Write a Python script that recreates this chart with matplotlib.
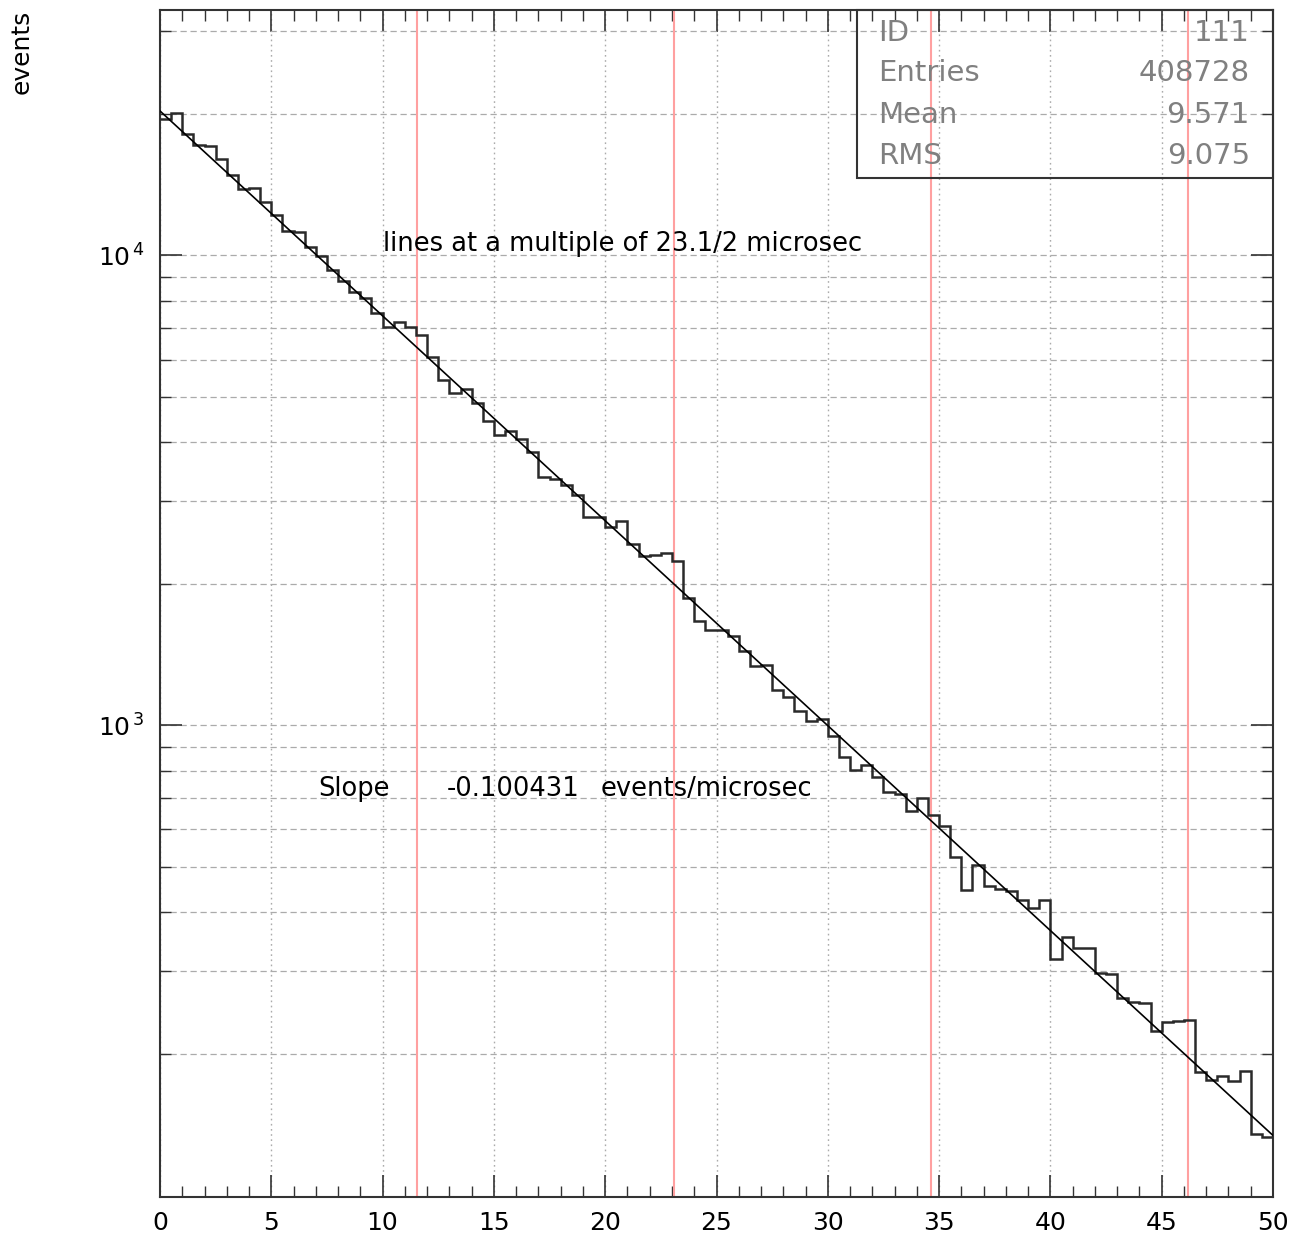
import matplotlib
matplotlib.use('Agg')
import matplotlib.pyplot as plt
from matplotlib.patches import Rectangle
from matplotlib.ticker import FixedLocator, MultipleLocator
import numpy as np

# histogram 111: decay times, 100 bins of 0.5 microsec
bin_edges = np.linspace(0, 50, 101)
counts = [19517, 20070, 18138, 17143, 17084, 16060, 14836, 13853, 13887, 12969,
          12196, 11275, 11220, 10441, 9976, 9292, 8826, 8363, 8121, 7535,
          7036, 7232, 7057, 6776, 6067, 5434, 5091, 5199, 4856, 4445,
          4151, 4233, 4070, 3824, 3383, 3345, 3248, 3093, 2781, 2779,
          2648, 2714, 2433, 2287, 2298, 2325, 2231, 1865, 1663, 1593,
          1597, 1545, 1436, 1334, 1341, 1190, 1150, 1070, 1019, 1030,
          947, 855, 804, 824, 774, 720, 714, 656, 699, 645,
          610, 523, 445, 503, 454, 447, 443, 425, 408, 424,
          318, 354, 336, 335, 297, 295, 263, 258, 256, 223,
          233, 235, 236, 183, 176, 179, 175, 184, 135, 133]

# exponential fit
fit_norm = 20300
fit_slope = -0.100431

# lines at multiples of 23.1/2 microsec
red_lines = [11.55, 23.1, 34.65, 46.2]

stat_names = ['ID', 'Entries', 'Mean', 'RMS']
stat_values = ['111', '408728', '9.571', '9.075']

y_major = [1e3, 1e4]
y_major_labels = [r'$10^{\,3}$', r'$10^{\,4}$']
y_minor = [m * 10 ** e for e in (2, 3, 4) for m in range(2, 10)]

W, H = 1298, 1241
fig = plt.figure(figsize=(W / 100, H / 100), dpi=100)
ax = fig.add_axes([160 / W, 44 / H, 1113 / W, 1187 / H])

ax.set_yscale('log')
ax.set_xlim(0, 50)
ax.set_ylim(99, 33300)

ax.xaxis.set_major_locator(MultipleLocator(5))
ax.xaxis.set_minor_locator(MultipleLocator(1))
ax.yaxis.set_major_locator(FixedLocator(y_major))
ax.yaxis.set_minor_locator(FixedLocator(y_minor))
ax.set_yticklabels(y_major_labels)
ax.yaxis.set_minor_formatter(plt.NullFormatter())

ax.grid(which='both', axis='y', color='#ababab', linestyle=(0, (5, 3)), linewidth=0.9)
ax.grid(which='major', axis='x', color='#ababab', linestyle=(0, (1.2, 2.5)), linewidth=1.0)
ax.set_axisbelow(True)

ax.tick_params(which='both', direction='in', top=True, right=True, color='#333333')
ax.tick_params(which='major', length=16, width=1.2)
ax.tick_params(which='minor', length=8, width=1.0)
ax.tick_params(axis='x', pad=10, labelsize=18)
ax.tick_params(axis='y', pad=11, labelsize=18)
for s in ax.spines.values():
    s.set_linewidth(1.5)
    s.set_color('#333333')

for xv in red_lines:
    ax.axvline(xv, color='#ffa0a0', lw=1.5, zorder=1.5)

ax.stairs(counts, bin_edges, baseline=None, color='#2a2a2a', lw=1.8, zorder=3)

xf = np.linspace(0, 50, 200)
ax.plot(xf, fit_norm * np.exp(fit_slope * xf), color='k', lw=1.2, zorder=4)

ax.text(10.0, 10580, 'lines at a multiple of 23.1/2 microsec', fontsize=18.5,
        ha='left', va='center')
ax.text(7.1, 732, 'Slope', fontsize=18.5, ha='left', va='center')
ax.text(12.9, 732, f'{fit_slope:g}', fontsize=18.5, ha='left', va='center')
ax.text(19.8, 732, 'events/microsec', fontsize=18.5, ha='left', va='center')

# stats box
box_left, box_bottom = 0.6262, 0.8585
ax.add_patch(Rectangle((box_left, box_bottom), 1 - box_left, 1 - box_bottom,
                       transform=ax.transAxes, fill=False, ec='#333333', lw=1.5,
                       zorder=5, clip_on=False))
row_y = [0.9806, 0.9469, 0.9115, 0.8770]
for name, val, yy in zip(stat_names, stat_values, row_y):
    ax.text(0.6451, yy, name, transform=ax.transAxes, fontsize=21,
            color='#808080', ha='left', va='center')
    ax.text(0.9793, yy, val, transform=ax.transAxes, fontsize=21,
            color='#808080', ha='right', va='center')

fig.text(22 / W, 1 - 10 / H, 'events', rotation=90, ha='center', va='top', fontsize=18)

fig.savefig('out.png', dpi=100)
